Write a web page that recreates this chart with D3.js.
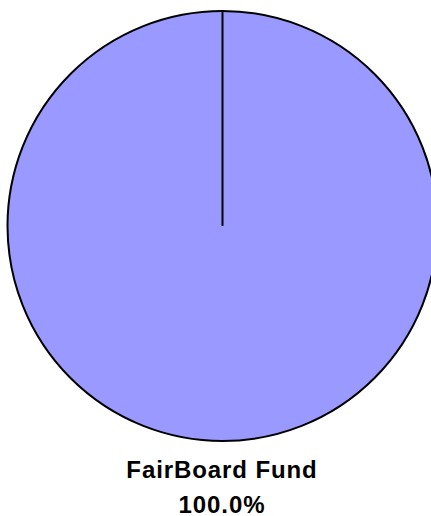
<!DOCTYPE html>
<html>
<head>
<meta charset="utf-8">
<script src="https://cdn.jsdelivr.net/npm/d3@7"></script>
<style>
  html, body { margin: 0; padding: 0; background: #ffffff; }
  svg { display: block; }
</style>
</head>
<body>
<script>
const categories = ["FairBoard Fund"];
const values = [100.0];
const colors = ["#9999FF"];

const W = 431, H = 516;
const cx = 222.5, cy = 226, R = 215;

const svg = d3.select("body").append("svg").attr("width", W).attr("height", H);
const g = svg.append("g").attr("transform", `translate(${cx},${cy})`);

const pie = d3.pie().sort(null).value(d => d.value);
const data = categories.map((c, i) => ({ name: c, value: values[i], color: colors[i] }));
const arcs = pie(data);
const arc = d3.arc().innerRadius(0).outerRadius(R);

g.selectAll("path.slice").data(arcs).enter().append("path")
  .attr("class", "slice")
  .attr("d", arc)
  .attr("fill", d => d.data.color)
  .attr("stroke", "#000")
  .attr("stroke-width", 2);

// slice boundary radii
g.selectAll("line.edge").data(arcs).enter().append("line")
  .attr("class", "edge")
  .attr("x1", 0).attr("y1", 0)
  .attr("x2", d => d3.pointRadial(d.startAngle, R)[0])
  .attr("y2", d => d3.pointRadial(d.startAngle, R)[1])
  .attr("stroke", "#000")
  .attr("stroke-width", 2);

const total = d3.sum(values);
const labels = svg.selectAll("g.label").data(arcs).enter().append("g").attr("class", "label");
labels.append("text")
  .attr("x", 222).attr("y", 478)
  .attr("text-anchor", "middle")
  .style("font-family", "'Liberation Sans', Arial, sans-serif")
  .style("font-weight", "bold")
  .style("font-size", "24px")
  .style("letter-spacing", "0.9px")
  .attr("fill", "#000")
  .text(d => d.data.name);
labels.append("text")
  .attr("x", 222).attr("y", 513)
  .attr("text-anchor", "middle")
  .style("font-family", "'Liberation Sans', Arial, sans-serif")
  .style("font-weight", "bold")
  .style("font-size", "24px")
  .style("letter-spacing", "0.9px")
  .attr("fill", "#000")
  .text(d => (d.data.value / total * 100).toFixed(1) + "%");
</script>
</body>
</html>
